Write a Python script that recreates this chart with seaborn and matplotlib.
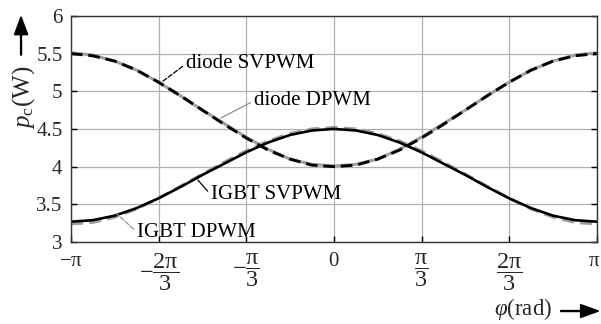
import numpy as np
import pandas as pd
import matplotlib
matplotlib.use("Agg")
import matplotlib.pyplot as plt
import matplotlib.transforms as mtrans
import seaborn as sns

# phase angle samples (degrees) and power losses
phi_deg = [-180, -165, -150, -135, -120, -105, -90, -75, -60, -45, -30, -15, 0,
           15, 30, 45, 60, 75, 90, 105, 120, 135, 150, 165, 180]
diode_svpwm = [5.50, 5.47, 5.40, 5.28, 5.12, 4.94, 4.75, 4.56, 4.38, 4.22, 4.10, 4.02, 4.00,
               4.02, 4.10, 4.22, 4.38, 4.56, 4.75, 4.94, 5.12, 5.28, 5.40, 5.47, 5.50]
diode_dpwm = [5.51, 5.48, 5.40, 5.28, 5.12, 4.94, 4.75, 4.57, 4.39, 4.23, 4.10, 4.03, 4.01,
              4.03, 4.10, 4.23, 4.39, 4.57, 4.75, 4.94, 5.12, 5.28, 5.40, 5.48, 5.51]
igbt_svpwm = [3.27, 3.29, 3.35, 3.45, 3.58, 3.73, 3.89, 4.04, 4.19, 4.32, 4.42, 4.48, 4.50,
              4.48, 4.42, 4.32, 4.19, 4.04, 3.89, 3.73, 3.58, 3.45, 3.35, 3.29, 3.27]
igbt_dpwm = [3.24, 3.26, 3.33, 3.44, 3.58, 3.74, 3.90, 4.06, 4.21, 4.34, 4.44, 4.50, 4.52,
             4.50, 4.44, 4.34, 4.21, 4.06, 3.90, 3.74, 3.58, 3.44, 3.33, 3.26, 3.24]

xtick_vals = [-np.pi, -2*np.pi/3, -np.pi/3, 0, np.pi/3, 2*np.pi/3, np.pi]
xtick_labels = [r'$-\mathrm{\pi}$', r'$-\dfrac{2\mathrm{\pi}}{3}$', r'$-\dfrac{\mathrm{\pi}}{3}$',
                r'$0$', r'$\dfrac{\mathrm{\pi}}{3}$', r'$\dfrac{2\mathrm{\pi}}{3}$', r'$\mathrm{\pi}$']
ytick_vals = [3, 3.5, 4, 4.5, 5, 5.5, 6]
ytick_labels = ['3', '3.5', '4', '4.5', '5', '5.5', '6']

sns.set_theme(style="white")
plt.rcParams['font.family'] = ['Liberation Serif', 'DejaVu Serif']
plt.rcParams['mathtext.fontset'] = 'custom'
plt.rcParams['mathtext.rm'] = 'Liberation Serif'
plt.rcParams['mathtext.it'] = 'Liberation Serif:italic'
plt.rcParams['mathtext.bf'] = 'Liberation Serif:bold'

phi = np.deg2rad(phi_deg)
df = pd.DataFrame({'phi': phi, 'diode SVPWM': diode_svpwm, 'diode DPWM': diode_dpwm,
                   'IGBT SVPWM': igbt_svpwm, 'IGBT DPWM': igbt_dpwm})

fig = plt.figure(figsize=(6.01, 3.24), dpi=100)
ax = fig.add_axes([0.118, 0.253, 0.875, 0.698])

sns.lineplot(data=df, x='phi', y='diode DPWM', ax=ax, color='#a0a0a0', lw=2.2)
sns.lineplot(data=df, x='phi', y='IGBT DPWM', ax=ax, color='#a0a0a0', lw=2.2, linestyle=(0, (4, 2)))
sns.lineplot(data=df, x='phi', y='IGBT SVPWM', ax=ax, color='black', lw=1.9)
sns.lineplot(data=df, x='phi', y='diode SVPWM', ax=ax, color='black', lw=2.1, linestyle=(0, (4, 2)))

ax.set_xlim(-np.pi, np.pi)
ax.set_ylim(3, 6)
ax.set_xticks(xtick_vals)
ax.set_xticklabels(xtick_labels, fontsize=15)
for i, t in enumerate(ax.get_xticklabels()):
    if 'frac' in xtick_labels[i]:
        t.set_fontsize(17.5)
ax.set_yticks(ytick_vals)
ax.set_yticklabels(ytick_labels, fontsize=15)
ax.set_xlabel('')
ax.set_ylabel('')
ax.grid(True, color='#b0b0b0', lw=0.9)
ax.tick_params(direction='in', length=4, width=1, color='black', top=False, right=True,
               bottom=True, left=True)
ax.tick_params(axis='x', pad=7)
ax.tick_params(axis='y', pad=6)
for s in ax.spines.values():
    s.set_color('#333333')
    s.set_linewidth(1.0)

# nudge the last tick label so it stays inside the figure
lbl = ax.get_xticklabels()[-1]
lbl.set_transform(lbl.get_transform() + mtrans.ScaledTranslation(-3/100, 0, fig.dpi_scale_trans))

def px2data(x, y):
    xd = -np.pi + (x - 71) / (597 - 71) * 2 * np.pi
    yd = 6 - (y - 16) / (242 - 16) * 3
    return xd, yd

def ann(text, xy, xytext, color, ls):
    ax.annotate(text, xy=px2data(*xy), xytext=px2data(*xytext), fontsize=15, color='black',
                ha='left', va='center',
                arrowprops=dict(arrowstyle='-', color=color, lw=0.9, linestyle=ls,
                                shrinkA=0, shrinkB=0, relpos=(0, 0.5)))

ann('diode SVPWM', (162, 82), (186, 64), 'black', '--')
ann('diode DPWM', (221, 118), (254, 101), '#909090', '-')
ann('IGBT SVPWM', (198, 180), (211, 195), 'black', '-')
ann('IGBT DPWM', (117, 214), (137, 232), '#909090', '--')

# axis labels with arrows
fig.text(0.040, 0.70, r'$p_{\mathrm{c}}$(W)', rotation=90, fontsize=18,
         ha='center', va='center')
fig.patches.append(matplotlib.patches.FancyArrow(0.035, 0.83, 0, 0.118, width=0.0015,
                   head_width=0.022, head_length=0.055, color='black',
                   transform=fig.transFigure, length_includes_head=True))
fig.text(0.822, 0.045, r'$\varphi$(rad)', fontsize=16.5, ha='left', va='center')
fig.patches.append(matplotlib.patches.FancyArrow(0.933, 0.040, 0.063, 0, width=0.003,
                   head_width=0.04, head_length=0.03, color='black',
                   transform=fig.transFigure, length_includes_head=True))

fig.savefig('out.png', dpi=100)
